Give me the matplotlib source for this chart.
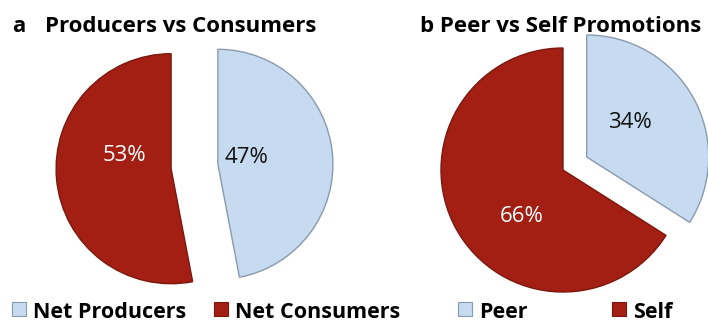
import matplotlib.pyplot as plt
from matplotlib.patches import Rectangle

# data
labels_a = ['Net Producers', 'Net Consumers']
values_a = [47, 53]
labels_b = ['Peer', 'Self']
values_b = [34, 66]

BLUE = '#c6daf0'
RED = '#a31f13'
EDGES = ['#8a9aae', '#7c170e']

plt.rcParams['font.family'] = ['Open Sans', 'DejaVu Sans']

W, H = 708, 324
fig = plt.figure(figsize=(W / 100, H / 100), dpi=100)
ax = fig.add_axes([0, 0, 1, 1])


def py(y):
    # pixel row -> data y
    return H - y


def draw_pie(values, center, radius, explode, text_offsets, text_colors):
    wedges, _, texts = ax.pie(values, colors=[BLUE, RED], startangle=90,
                              counterclock=False, center=center, radius=radius,
                              explode=explode,
                              autopct=lambda p: '%d%%' % round(p),
                              wedgeprops=dict(linewidth=1.0),
                              textprops=dict(fontsize=16))
    for w, ec in zip(wedges, EDGES):
        w.set_edgecolor(ec)
    # labels placed relative to the (exploded) wedge centre, baseline aligned
    for w, t, off, col in zip(wedges, texts, text_offsets, text_colors):
        cx, cy = w.center
        t.set_position((cx + off[0], cy + off[1]))
        t.set_color(col)
        t.set_ha('center')
        t.set_va('baseline')
    return wedges


draw_pie(values_a, (194.5, py(166.5)), 115, [23.5, 23.5],
         [(29, 1), (-46.5, 8)], ['#111111', 'white'])
draw_pie(values_b, (563, py(170)), 122, [27, 0],
         [(43, 29), (-41, -52)], ['#111111', 'white'])

ax.set_xlim(0, W)
ax.set_ylim(0, H)
ax.set_aspect('equal')
ax.axis('off')

# titles
ax.text(12, py(32), 'a', fontsize=16, fontweight='bold', va='baseline')
ax.text(45, py(32), 'Producers vs Consumers', fontsize=16, fontweight='bold', va='baseline')
ax.text(420, py(32), 'b Peer vs Self Promotions', fontsize=16, fontweight='bold', va='baseline')

# legends
legend_items = [(labels_a[0], BLUE, EDGES[0], 12),
                (labels_a[1], RED, EDGES[1], 214),
                (labels_b[0], BLUE, EDGES[0], 458),
                (labels_b[1], RED, EDGES[1], 612)]
for name, fc, ec, x in legend_items:
    ax.add_patch(Rectangle((x, py(316)), 14, 14, facecolor=fc, edgecolor=ec, lw=0.8))
    ax.text(x + 21, py(318), name, fontsize=15.5, fontweight='bold', va='baseline')

fig.savefig('out.png', dpi=100)
